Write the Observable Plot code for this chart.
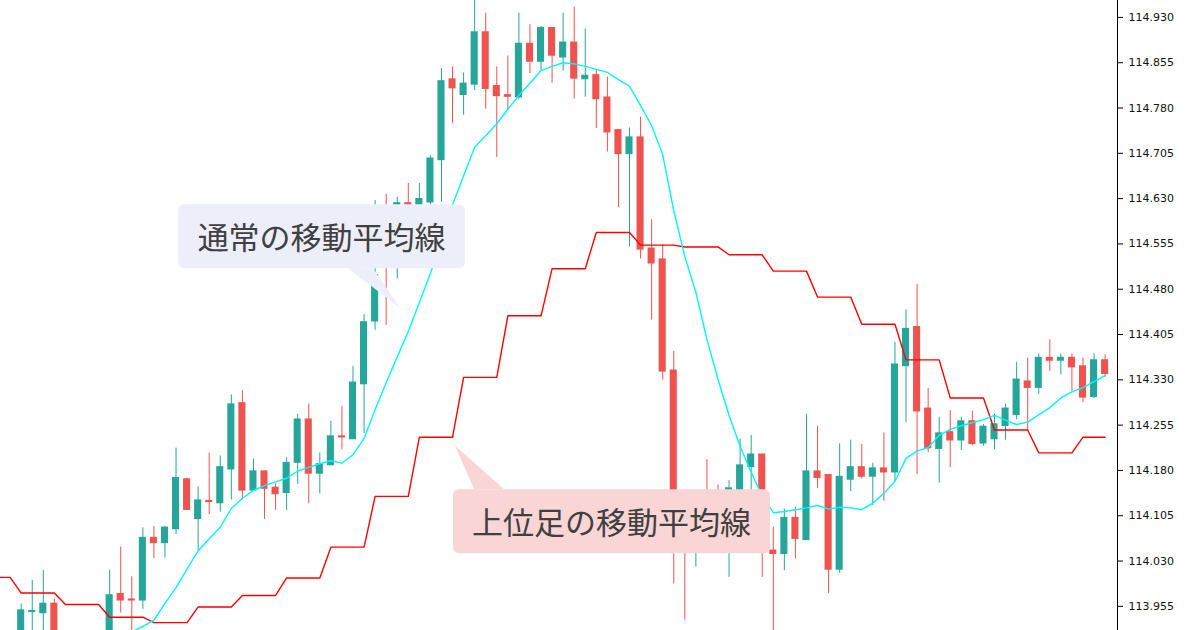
<!DOCTYPE html>
<html>
<head>
<meta charset="utf-8">
<script src="https://cdn.jsdelivr.net/npm/d3@7"></script>
<script src="https://cdn.jsdelivr.net/npm/@observablehq/plot@0.6"></script>
<style>
  html, body { margin: 0; padding: 0; background: #ffffff; }
  #chart { position: relative; width: 1200px; height: 630px; overflow: hidden; }
</style>
</head>
<body>
<div id="chart"></div>
<script>
// ---- Data (USD/JPY style candles, index 0..98) ----
const open = [
  113.898, 113.946, 113.944, 113.959, 113.890, 113.870, 113.885, 113.868, 113.898, 113.975,
  113.966, 113.965, 114.068, 114.060, 114.083, 114.165, 114.100, 114.129, 114.126, 114.182,
  114.291, 114.147, 114.178, 114.151, 114.143, 114.193, 114.264, 114.175, 114.189, 114.236,
  114.232, 114.323, 114.427, 114.574, 114.524, 114.622, 114.569, 114.624, 114.694, 114.827,
  114.802, 114.819, 114.905, 114.816, 114.801, 114.798, 114.886, 114.857, 114.912, 114.864,
  114.888, 114.828, 114.834, 114.797, 114.743, 114.704, 114.731, 114.547, 114.529, 114.345,
  114.081, 114.051, 114.130, 114.122, 114.064, 114.143, 114.186, 114.206, 114.047, 114.042,
  114.101, 114.065, 114.178, 114.172, 114.016, 114.165, 114.185, 114.170, 114.183, 114.177,
  114.353, 114.417, 114.282, 114.216, 114.243, 114.230, 114.261, 114.225, 114.232, 114.254,
  114.272, 114.327, 114.317, 114.366, 114.362, 114.366, 114.352, 114.302, 114.362
];
const high = [
  113.959, 113.998, 114.014, 113.967, 113.905, 113.900, 113.895, 113.905, 114.015, 114.053,
  114.004, 114.085, 114.087, 114.087, 114.217, 114.167, 114.153, 114.209, 114.204, 114.305,
  114.312, 114.199, 114.179, 114.158, 114.201, 114.273, 114.290, 114.209, 114.261, 114.286,
  114.352, 114.438, 114.627, 114.637, 114.632, 114.655, 114.655, 114.701, 114.845, 114.848,
  114.838, 114.963, 114.937, 114.848, 114.866, 114.937, 114.918, 114.915, 114.912, 114.937,
  114.947, 114.911, 114.843, 114.831, 114.744, 114.747, 114.765, 114.595, 114.554, 114.377,
  114.097, 114.105, 114.198, 114.156, 114.163, 114.232, 114.238, 114.206, 114.086, 114.116,
  114.119, 114.273, 114.253, 114.172, 114.224, 114.230, 114.223, 114.192, 114.242, 114.392,
  114.446, 114.488, 114.316, 114.268, 114.279, 114.268, 114.278, 114.256, 114.273, 114.290,
  114.359, 114.366, 114.373, 114.396, 114.373, 114.373, 114.366, 114.373, 114.371
];
const low = [
  113.885, 113.898, 113.907, 113.874, 113.855, 113.860, 113.850, 113.860, 113.890, 113.944,
  113.898, 113.950, 114.034, 114.035, 114.074, 114.114, 114.047, 114.107, 114.111, 114.131,
  114.131, 114.146, 114.099, 114.114, 114.114, 114.157, 114.125, 114.141, 114.189, 114.214,
  114.232, 114.241, 114.412, 114.420, 114.497, 114.544, 114.552, 114.610, 114.624, 114.754,
  114.768, 114.809, 114.778, 114.698, 114.775, 114.794, 114.837, 114.842, 114.821, 114.841,
  114.795, 114.798, 114.746, 114.707, 114.615, 114.550, 114.530, 114.429, 114.330, 113.992,
  113.932, 114.020, 114.072, 114.064, 114.003, 114.130, 114.138, 114.003, 113.912, 114.014,
  114.033, 114.065, 114.150, 113.976, 114.010, 114.145, 114.166, 114.122, 114.129, 114.161,
  114.259, 114.173, 114.209, 114.159, 114.185, 114.213, 114.221, 114.220, 114.214, 114.230,
  114.264, 114.246, 114.306, 114.344, 114.338, 114.311, 114.292, 114.299, 114.334
];
const close = [
  113.948, 113.947, 113.959, 113.890, 113.870, 113.885, 113.868, 113.895, 113.973, 113.965,
  113.965, 114.068, 114.060, 114.085, 114.167, 114.115, 114.130, 114.128, 114.185, 114.289,
  114.147, 114.178, 114.150, 114.141, 114.192, 114.264, 114.175, 114.190, 114.236, 114.235,
  114.325, 114.425, 114.503, 114.524, 114.622, 114.569, 114.629, 114.696, 114.824, 114.813,
  114.820, 114.905, 114.812, 114.800, 114.799, 114.886, 114.857, 114.912, 114.867, 114.888,
  114.829, 114.833, 114.795, 114.740, 114.704, 114.731, 114.546, 114.523, 114.344, 114.081,
  114.056, 114.089, 114.097, 114.089, 114.150, 114.188, 114.206, 114.056, 114.042, 114.101,
  114.067, 114.178, 114.168, 114.016, 114.169, 114.185, 114.170, 114.183, 114.177, 114.355,
  114.414, 114.278, 114.217, 114.241, 114.230, 114.261, 114.224, 114.252, 114.256, 114.282,
  114.330, 114.317, 114.366, 114.362, 114.366, 114.351, 114.301, 114.362, 114.340
];

// Normal moving average (cyan), starting at candle index 8
const maStart = 8;
const ma = [
  113.882, 113.898, 113.913, 113.922, 113.932, 113.960, 113.986, 114.017, 114.047, 114.067,
  114.086, 114.117, 114.134, 114.147, 114.155, 114.161, 114.167, 114.179, 114.185, 114.191,
  114.196, 114.192, 114.206, 114.233, 114.281, 114.325, 114.368, 114.410, 114.458, 114.506,
  114.562, 114.620, 114.668, 114.715, 114.734, 114.754, 114.778, 114.801, 114.821, 114.842,
  114.849, 114.855, 114.853, 114.849, 114.844, 114.839, 114.827, 114.816, 114.784, 114.751,
  114.703, 114.610, 114.534, 114.475, 114.397, 114.331, 114.271, 114.220, 114.177, 114.138,
  114.110, 114.112, 114.115, 114.118, 114.122, 114.116, 114.119, 114.118, 114.115, 114.126,
  114.142, 114.162, 114.200, 114.212, 114.218, 114.238, 114.248, 114.254, 114.259, 114.264,
  114.271, 114.263, 114.256, 114.260, 114.272, 114.284, 114.300, 114.310, 114.317, 114.327,
  114.337
];

// Higher-timeframe moving average (red): one value per 4 candles, first group = candles -4..-1
const htfGroup = 4;
const htfFirstGroup = -1;
const htfMA = [
  114.003, 113.977, 113.958, 113.937, 113.928, 113.954, 113.973, 114.002, 114.053, 114.137,
  114.235, 114.334, 114.436, 114.514, 114.574, 114.553, 114.550, 114.537, 114.510, 114.467,
  114.422, 114.363, 114.300, 114.247, 114.209, 114.235
];

const yTicks = [113.955, 114.030, 114.105, 114.180, 114.255, 114.330, 114.405,
                114.480, 114.555, 114.630, 114.705, 114.780, 114.855, 114.930];

const labelNormal = "通常の移動平均線";
const labelHigher = "上位足の移動平均線";

// ---- Build tables ----
const candles = open.map((o, i) => ({ i, o, h: high[i], l: low[i], c: close[i], up: close[i] >= o }));
const maLine = ma.map((v, k) => ({ i: maStart + k, v }));
const htfLine = [];
for (let i = -2; i < open.length; i++) {
  htfLine.push({ i, v: htfMA[Math.floor(i / htfGroup) - htfFirstGroup] });
}

const GREEN = "#26a69a", RED = "#ef5350";
const xDomain = [-1.87, 99.12];
const half = 0.32;

const plot = Plot.plot({
  width: 1200,
  height: 630,
  marginLeft: 0,
  marginRight: 83,
  marginTop: 0,
  marginBottom: 0,
  style: { fontFamily: "DejaVu Sans", fontSize: "11px", background: "#ffffff", overflow: "visible" },
  x: { domain: xDomain, axis: null },
  y: { domain: [113.915, 114.958], axis: null },
  marks: [
    Plot.ruleX(candles.filter(d => d.up), { x: "i", y1: "l", y2: "h", stroke: GREEN, strokeWidth: 1, clip: true }),
    Plot.ruleX(candles.filter(d => !d.up), { x: "i", y1: "l", y2: "h", stroke: RED, strokeWidth: 1, clip: true }),
    Plot.rect(candles.filter(d => d.up), { x1: d => d.i - half, x2: d => d.i + half, y1: "o", y2: "c", fill: GREEN, insetTop: -0.75, insetBottom: -0.75, clip: true }),
    Plot.rect(candles.filter(d => !d.up), { x1: d => d.i - half, x2: d => d.i + half, y1: "o", y2: "c", fill: RED, insetTop: -0.75, insetBottom: -0.75, clip: true }),
    Plot.line(htfLine, { x: "i", y: "v", stroke: "#ff0000", strokeWidth: 1.4, clip: true }),
    Plot.line(maLine, { x: "i", y: "v", stroke: "#00f5ff", strokeWidth: 1.4, clip: true }),
    Plot.ruleX([xDomain[1]], { stroke: "#000000", strokeWidth: 1 }),
    Plot.axisY(yTicks, { anchor: "right", tickSize: 5, tickPadding: 6, tickFormat: d3.format(".3f"), fill: "#111", stroke: "#000", strokeOpacity: 1 })
  ]
});

document.getElementById("chart").appendChild(plot);

// ---- Callout annotations positioned through the plot's own scales ----
const sx = plot.scale("x"), sy = plot.scale("y");
const svg = d3.select(plot);
const callouts = [
  { text: labelNormal, fill: "#eceef9", x1: 14.25, x2: 40.17, yTop: 114.620, yBot: 114.514,
    tail: [[29.59, 114.514], [31.85, 114.514], [34.30, 114.448]] },
  { text: labelHigher, fill: "#fad5d5", x1: 39.09, x2: 67.75, yTop: 114.148, yBot: 114.042,
    tail: [[41.00, 114.148], [43.70, 114.148], [39.27, 114.220]] }
];
for (const c of callouts) {
  const g = svg.append("g");
  const L = sx.apply(c.x1), R = sx.apply(c.x2), T = sy.apply(c.yTop), B = sy.apply(c.yBot);
  g.append("rect").attr("x", L).attr("y", T).attr("width", R - L).attr("height", B - T)
    .attr("rx", 6).attr("ry", 6).attr("fill", c.fill);
  g.append("polygon")
    .attr("points", c.tail.map(([a, b]) => `${sx.apply(a)},${sy.apply(b)}`).join(" "))
    .attr("fill", c.fill);
  g.append("text").attr("x", (L + R) / 2).attr("y", (T + B) / 2 - 1)
    .attr("text-anchor", "middle").attr("dominant-baseline", "central")
    .attr("font-family", "'Noto Sans CJK JP', 'Noto Sans', sans-serif")
    .attr("font-size", 31).attr("fill", "#404040")
    .text(c.text);
}
</script>
</body>
</html>
